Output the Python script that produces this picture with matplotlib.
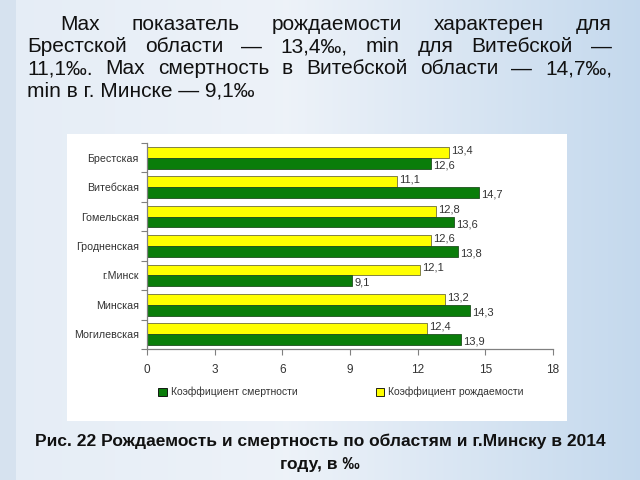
import matplotlib
matplotlib.use("Agg")
import matplotlib.pyplot as plt
import numpy as np
from matplotlib.patches import Rectangle, Patch

regions = ["Брестская", "Витебская", "Гомельская", "Гродненская", "г.Минск", "Минская", "Могилевская"]
birth = [13.4, 11.1, 12.8, 12.6, 12.1, 13.2, 12.4]   # Коэффициент рождаемости
death = [12.6, 14.7, 13.6, 13.8, 9.1, 14.3, 13.9]    # Коэффициент смертности
xticks = [0, 3, 6, 9, 12, 15, 18]

def fmt(v):
    return f"{v:.1f}".replace(".", ",")

plt.rcParams['font.family'] = ['Liberation Sans', 'DejaVu Sans']

fig = plt.figure(figsize=(6.4, 4.8), dpi=100)

# background gradient
bg = fig.add_axes([0, 0, 1, 1], zorder=-10)
bg.set_axis_off()
xs = np.linspace(0, 1, 640)
c_left = np.array([0.84, 0.89, 0.94])
c_mid = np.array([0.93, 0.95, 0.975])
c_right = np.array([0.77, 0.85, 0.93])
cols = np.empty((640, 3))
for i, x in enumerate(xs):
    if x < 0.025:
        cols[i] = c_left
    elif x < 0.45:
        t = (x - 0.025) / (0.45 - 0.025)
        cols[i] = np.array([0.90, 0.93, 0.965]) * (1 - t) + c_mid * t
    else:
        t = (x - 0.45) / 0.55
        cols[i] = c_mid * (1 - t) + c_right * t
img = np.tile(cols[None, :, :], (480, 1, 1))
bg.imshow(img, aspect='auto', extent=[0, 1, 0, 1])
bg.set_xlim(0, 1); bg.set_ylim(0, 1)
# white panel
bg.add_patch(Rectangle((67/640, 1 - 421/480), (567-67)/640, (421-134)/480,
                       facecolor='white', edgecolor='none', transform=bg.transAxes))

ax = fig.add_axes([147/640, 1 - 349/480, (553-147)/640, (349-143)/480])
ax.set_facecolor('white')
n = len(regions)
y = np.arange(n)[::-1].astype(float)
h = 0.37
green = '#0a7d0a'
yellow = '#ffff00'
ax.barh(y + h/2, birth, height=h, color=yellow, edgecolor='#6e6e3a', linewidth=0.6)
ax.barh(y - h/2, death, height=h, color=green, edgecolor='#1f4f1f', linewidth=0.6)
for yi, b, d in zip(y, birth, death):
    ax.annotate(fmt(b), (b, yi + h/2 + 0.07), xytext=(1.5, 0), textcoords='offset points',
                va='center', ha='left', fontsize=8, color='#333333')
    ax.annotate(fmt(d), (d, yi - h/2 - 0.07), xytext=(1.5, 0), textcoords='offset points',
                va='center', ha='left', fontsize=8, color='#333333')

ax.set_xlim(0, 18)
ax.set_ylim(-0.5, n - 0.5)
ax.set_xticks(xticks)
ax.set_xticklabels([str(t) for t in xticks], fontsize=8.5, color='#333333')
ax.set_yticks(np.arange(-0.5, n, 1.0))
ax.set_yticklabels([])
ax.set_yticks(y, minor=True)
ax.set_yticklabels(regions, minor=True, fontsize=7.7, color='#333333')
ax.tick_params(axis='y', which='minor', length=0, pad=6)
ax.tick_params(axis='y', which='major', length=4, color='#808080', direction='out')
ax.tick_params(axis='x', length=4, color='#808080', pad=7)
for s in ['top', 'right']:
    ax.spines[s].set_visible(False)
for s in ['left', 'bottom']:
    ax.spines[s].set_color('#808080')
    ax.spines[s].set_linewidth(0.9)

handles = [Patch(facecolor=green, edgecolor='black', linewidth=0.6, label='Коэффициент смертности'),
           Patch(facecolor=yellow, edgecolor='black', linewidth=0.6, label='Коэффициент рождаемости')]
fig.legend(handles=handles, loc='center', bbox_to_anchor=(341/640, 1 - 392/480), ncol=2,
           frameon=False, fontsize=7.5, handlelength=0.8, handleheight=0.8, handletextpad=0.4,
           columnspacing=7.5, labelcolor='#333333')

# top text, justified
lines = [
    ("Max показатель рождаемости характерен для", 60, True),
    ("Брестской области — 13,4‰, min для Витебской —", 27, True),
    ("11,1‰. Max смертность в Витебской области — 14,7‰,", 27, True),
    ("min в г. Минске — 9,1‰", 27, False),
]
right_edge = 612
ys = [25, 47, 69, 91]
fs = 15
fig.canvas.draw()
r = fig.canvas.get_renderer()
for (txt, x0, just), yy in zip(lines, ys):
    if not just:
        fig.text(x0/640, 1 - yy/480, txt, fontsize=fs, va='center', ha='left', color='#111111')
        continue
    words = txt.split(' ')
    widths = []
    for w in words:
        t = fig.text(0, 0, w, fontsize=fs)
        widths.append(t.get_window_extent(r).width)
        t.remove()
    gap = (right_edge - x0 - sum(widths)) / (len(words) - 1)
    x = x0
    for w, wd in zip(words, widths):
        fig.text(x/640, 1 - yy/480, w, fontsize=fs, va='center', ha='left', color='#111111')
        x += wd + gap

fig.text(0.5, 1 - 441/480, "Рис. 22 Рождаемость и смертность по областям и г.Минску в 2014",
         fontsize=12.5, fontweight='bold', ha='center', va='center', color='#111111')
fig.text(0.5, 1 - 464/480, "году, в ‰", fontsize=12.5, fontweight='bold', ha='center', va='center',
         color='#111111')

fig.savefig('out.png', dpi=100)
